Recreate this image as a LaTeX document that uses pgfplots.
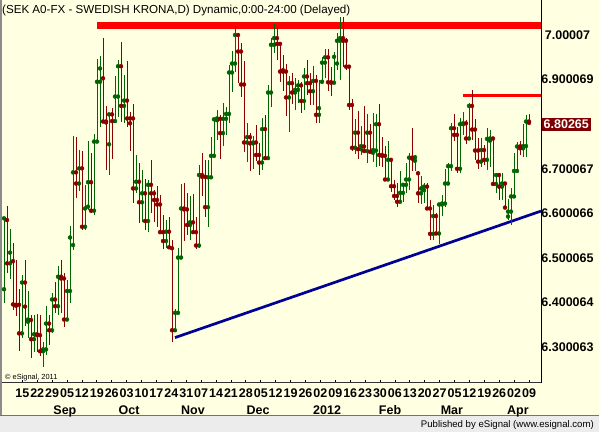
\documentclass[border=0pt]{standalone}
\usepackage{fontspec}
\setmainfont{Liberation Sans}
\usepackage{pgfplots}
\usepackage{pgfplotstable}
\pgfplotsset{compat=1.18}
\definecolor{bg}{RGB}{255,255,225}
\definecolor{upc}{RGB}{0,100,0}
\definecolor{dnc}{RGB}{140,0,0}
\definecolor{trend}{RGB}{0,0,150}
\definecolor{boxred}{RGB}{128,0,0}
\definecolor{barbg}{RGB}{236,236,236}

% up bars (close above open)
\pgfplotstableread{
i o h l c
1 6.430 6.589 6.398 6.589
3 6.488 6.566 6.454 6.512
7 6.331 6.462 6.321 6.445
9 6.357 6.426 6.320 6.362
11 6.318 6.372 6.290 6.329
14 6.291 6.312 6.256 6.295
15 6.295 6.392 6.282 6.353
17 6.338 6.421 6.331 6.407
19 6.392 6.481 6.372 6.458
22 6.362 6.451 6.358 6.426
23 6.426 6.572 6.400 6.546
24 6.529 6.774 6.518 6.692
26 6.667 6.742 6.651 6.701
28 6.570 6.664 6.563 6.611
29 6.615 6.763 6.608 6.670
31 6.606 6.777 6.596 6.761
32 6.761 6.946 6.758 6.895
33 6.895 6.953 6.794 6.925
36 6.755 6.824 6.686 6.822
38 6.807 6.907 6.802 6.862
39 6.862 6.944 6.817 6.930
41 6.841 6.910 6.802 6.853
45 6.656 6.731 6.645 6.671
47 6.625 6.697 6.581 6.645
49 6.583 6.675 6.559 6.664
55 6.538 6.585 6.522 6.559
58 6.338 6.385 6.335 6.377
59 6.377 6.522 6.374 6.501
60 6.501 6.665 6.499 6.611
63 6.574 6.639 6.540 6.580
66 6.528 6.709 6.522 6.686
69 6.614 6.720 6.570 6.681
70 6.681 6.772 6.679 6.729
71 6.729 6.815 6.727 6.811
72 6.809 6.832 6.765 6.813
74 6.780 6.848 6.751 6.812
75 6.812 6.838 6.776 6.823
76 6.823 6.933 6.802 6.916
77 6.916 6.965 6.873 6.936
78 6.936 7.021 6.916 7.000
82 6.759 6.803 6.716 6.771
84 6.757 6.774 6.700 6.759
87 6.714 6.813 6.697 6.789
89 6.724 6.888 6.721 6.871
90 6.871 6.993 6.839 6.978
91 6.978 7.025 6.960 6.993
96 6.860 6.908 6.783 6.892
98 6.871 6.903 6.832 6.877
99 6.877 6.899 6.847 6.887
101 6.852 6.925 6.832 6.907
104 6.874 6.930 6.843 6.897
106 6.821 6.898 6.803 6.836
107 6.895 6.950 6.892 6.938
108 6.938 6.968 6.903 6.950
111 6.893 6.963 6.890 6.951
112 6.936 7.004 6.922 6.987
113 6.987 7.040 6.898 6.993
118 6.747 6.812 6.733 6.781
120 6.744 6.796 6.731 6.751
122 6.740 6.822 6.714 6.781
124 6.736 6.824 6.716 6.742
125 6.741 6.822 6.705 6.800
129 6.676 6.763 6.673 6.720
133 6.626 6.694 6.624 6.646
134 6.646 6.667 6.626 6.664
135 6.664 6.712 6.645 6.676
136 6.676 6.735 6.652 6.725
138 6.718 6.731 6.694 6.726
140 6.645 6.684 6.621 6.656
141 6.652 6.669 6.623 6.660
144 6.554 6.619 6.540 6.594
146 6.555 6.624 6.531 6.620
147 6.620 6.641 6.594 6.622
148 6.622 6.699 6.615 6.667
149 6.667 6.714 6.664 6.706
150 6.706 6.802 6.696 6.791
153 6.700 6.815 6.690 6.800
154 6.800 6.828 6.776 6.802
156 6.768 6.847 6.764 6.841
160 6.716 6.768 6.705 6.742
162 6.720 6.792 6.697 6.767
163 6.763 6.787 6.705 6.768
165 6.666 6.690 6.645 6.686
167 6.660 6.690 6.630 6.667
169 6.593 6.632 6.585 6.604
170 6.604 6.656 6.574 6.638
171 6.638 6.735 6.636 6.695
172 6.695 6.761 6.693 6.750
174 6.746 6.800 6.726 6.751
175 6.751 6.821 6.726 6.806
}\upbars

% down bars (close below open)
\pgfplotstableread{
i o h l c
2 6.585 6.617 6.466 6.488
4 6.493 6.534 6.383 6.396
5 6.395 6.496 6.370 6.393
6 6.395 6.430 6.291 6.331
8 6.445 6.496 6.348 6.391
10 6.361 6.372 6.275 6.318
12 6.329 6.374 6.290 6.327
13 6.327 6.372 6.280 6.291
16 6.353 6.372 6.306 6.338
18 6.407 6.447 6.376 6.392
20 6.458 6.496 6.376 6.454
21 6.454 6.466 6.346 6.362
25 6.692 6.771 6.634 6.667
27 6.701 6.741 6.563 6.570
30 6.670 6.735 6.602 6.606
34 6.903 6.994 6.803 6.806
35 6.806 6.841 6.697 6.804
37 6.822 6.836 6.722 6.807
40 6.930 6.985 6.806 6.841
42 6.853 6.942 6.794 6.813
43 6.813 6.828 6.741 6.802
44 6.813 6.845 6.624 6.656
46 6.671 6.714 6.579 6.625
48 6.645 6.676 6.563 6.583
50 6.664 6.720 6.600 6.645
51 6.645 6.652 6.581 6.630
52 6.630 6.661 6.569 6.620
53 6.620 6.641 6.555 6.558
54 6.558 6.596 6.520 6.538
56 6.559 6.593 6.522 6.524
57 6.522 6.540 6.312 6.338
61 6.611 6.669 6.539 6.609
62 6.609 6.645 6.552 6.574
64 6.580 6.643 6.555 6.558
65 6.558 6.593 6.520 6.528
67 6.686 6.735 6.638 6.682
68 6.682 6.720 6.593 6.614
73 6.812 6.821 6.723 6.780
79 7.000 7.004 6.893 6.963
80 6.963 6.983 6.860 6.889
81 6.889 6.942 6.738 6.759
83 6.771 6.781 6.696 6.757
85 6.759 6.798 6.718 6.731
86 6.731 6.757 6.685 6.714
88 6.789 6.821 6.723 6.724
92 6.993 7.019 6.945 6.980
93 6.980 6.985 6.895 6.918
94 6.921 6.955 6.875 6.918
95 6.918 6.936 6.819 6.860
97 6.892 6.914 6.845 6.871
100 6.887 6.895 6.826 6.852
102 6.907 6.945 6.865 6.892
103 6.892 6.914 6.843 6.874
105 6.897 6.910 6.803 6.821
109 6.950 6.968 6.875 6.894
110 6.894 6.929 6.863 6.893
114 6.993 7.040 6.929 6.987
115 6.987 6.993 6.922 6.929
116 6.929 6.933 6.832 6.843
117 6.843 6.857 6.741 6.747
119 6.781 6.830 6.722 6.744
121 6.750 6.841 6.736 6.740
123 6.781 6.800 6.735 6.738
126 6.800 6.845 6.707 6.731
127 6.731 6.771 6.705 6.729
128 6.729 6.751 6.673 6.676
130 6.720 6.724 6.649 6.661
131 6.661 6.675 6.630 6.639
132 6.639 6.669 6.615 6.626
137 6.725 6.792 6.694 6.723
139 6.690 6.694 6.623 6.645
142 6.660 6.669 6.608 6.611
143 6.611 6.630 6.540 6.554
145 6.594 6.602 6.552 6.555
151 6.791 6.822 6.763 6.776
152 6.776 6.793 6.690 6.700
155 6.802 6.810 6.756 6.768
157 6.841 6.877 6.765 6.788
158 6.788 6.812 6.720 6.741
159 6.741 6.768 6.699 6.716
161 6.742 6.753 6.709 6.720
164 6.768 6.772 6.661 6.666
166 6.686 6.690 6.630 6.660
168 6.667 6.670 6.611 6.613
173 6.750 6.763 6.731 6.746
176 6.806 6.823 6.800 6.803
}\dnbars

\newcommand{\labfont}{\fontsize{12.5bp}{14bp}\selectfont\bfseries}

\begin{document}
\begin{tikzpicture}
\useasboundingbox (0bp,0bp) rectangle (599bp,432bp);
\fill[bg] (0bp,0bp) rectangle (599bp,432bp);
\fill[barbg] (0bp,0bp) rectangle (599bp,15.5bp);
\draw[black!55, line width=1bp] (0bp,16bp) -- (599bp,16bp);
\draw[black!45, line width=1.6bp] (0.8bp,16.5bp) -- (0.8bp,432bp);
\begin{axis}[
  at={(2bp,49bp)}, anchor=south west,
  width=539bp, height=381bp, scale only axis,
  xmin=0.33, xmax=180, ymin=6.2197, ymax=7.0740,
  axis line style={draw=none}, clip=false,
  xtick={7.10,12.07,17.04,22.00,26.97,31.94,36.91,41.88,46.84,51.81,56.78,61.75,66.72,71.68,76.65,81.62,86.59,91.56,96.52,101.49,106.46,111.43,116.40,121.36,126.33,131.30,136.27,141.24,146.20,151.17,156.14,161.11,166.08,171.04,176.01},
  xticklabels={15,22,29,05,12,19,26,03,10,17,24,31,07,14,21,28,05,12,19,26,02,09,16,23,30,06,13,20,27,05,12,19,26,02,09},
  xtick pos=lower, tick align=inside, major tick length=3bp,
  xtick style={black, line width=0.8bp},
  ytick={6.300063,6.400064,6.500065,6.600066,6.700067,6.900069,7.00007},
  yticklabels={6.300063,6.400064,6.500065,6.600066,6.700067,6.900069,7.00007},
  ytick pos=right, yticklabel pos=right, ytick style={draw=none},
  xticklabel style={font=\labfont, anchor=base, yshift=-14.7bp, inner sep=0pt},
  yticklabel style={font=\labfont, anchor=base, xshift=26.5bp, yshift=-4.4bp, inner sep=0pt},
]
% drawn lines
\addplot[red, line width=7bp, forget plot] coordinates {(32,7.0213) (180,7.0213)};
\addplot[red, line width=3bp, forget plot] coordinates {(153.9,6.8636) (180,6.8636)};
\addplot[trend, line width=2.7bp, forget plot] coordinates {(58,6.3215) (180,6.6052)};
% up bars: high-low range and close tick, then open tick
\addplot[upc, only marks, mark=none, forget plot,
  error bars/.cd, y dir=both, y explicit, x dir=plus, x fixed=0.7,
  error mark=none, error bar style={line width=1bp, upc}]
  table[x=i, y=c, y error plus expr=\thisrow{h}-\thisrow{c}, y error minus expr=\thisrow{c}-\thisrow{l}] {\upbars};
\addplot[upc, only marks, mark=none, forget plot,
  error bars/.cd, x dir=minus, x fixed=0.7,
  error mark=none, error bar style={line width=1bp, upc}]
  table[x=i, y=o] {\upbars};
% down bars
\addplot[dnc, only marks, mark=none, forget plot,
  error bars/.cd, y dir=both, y explicit, x dir=plus, x fixed=0.7,
  error mark=none, error bar style={line width=1bp, dnc}]
  table[x=i, y=c, y error plus expr=\thisrow{h}-\thisrow{c}, y error minus expr=\thisrow{c}-\thisrow{l}] {\dnbars};
\addplot[dnc, only marks, mark=none, forget plot,
  error bars/.cd, x dir=minus, x fixed=0.7,
  error mark=none, error bar style={line width=1bp, dnc}]
  table[x=i, y=o] {\dnbars};
% month labels
\node[font=\labfont, anchor=base, inner sep=0pt, yshift=-31.3bp] at (axis cs:21.3,6.2197) {Sep};
\node[font=\labfont, anchor=base, inner sep=0pt, yshift=-31.3bp] at (axis cs:42.7,6.2197) {Oct};
\node[font=\labfont, anchor=base, inner sep=0pt, yshift=-31.3bp] at (axis cs:64,6.2197) {Nov};
\node[font=\labfont, anchor=base, inner sep=0pt, yshift=-31.3bp] at (axis cs:85.7,6.2197) {Dec};
\node[font=\labfont, anchor=base, inner sep=0pt, yshift=-31.3bp] at (axis cs:108.7,6.2197) {2012};
\node[font=\labfont, anchor=base, inner sep=0pt, yshift=-31.3bp] at (axis cs:129.7,6.2197) {Feb};
\node[font=\labfont, anchor=base, inner sep=0pt, yshift=-31.3bp] at (axis cs:150.3,6.2197) {Mar};
\node[font=\labfont, anchor=base, inner sep=0pt, yshift=-31.3bp] at (axis cs:172.3,6.2197) {Apr};
% last price box
\node[fill=boxred, text=white, anchor=west, minimum height=12.5bp, minimum width=50bp, inner sep=0pt, font=\labfont] at (axis cs:180,6.7993) {\makebox[50bp][l]{\hspace{2.5bp}6.80265}};
\end{axis}
\draw[black, line width=1bp] (541bp,49bp) -- (541bp,432bp);
\draw[black!80, line width=1bp] (2bp,49bp) -- (541bp,49bp);
\node[anchor=base west, inner sep=0pt, font=\fontsize{11.6bp}{13bp}\selectfont] at (2bp,418bp) {(SEK A0-FX - SWEDISH KRONA,D) Dynamic,0:00-24:00 (Delayed)};
\node[anchor=base west, inner sep=0pt, font=\fontsize{7.4bp}{9bp}\selectfont] at (5bp,52.5bp) {© eSignal, 2011};
\node[anchor=base east, inner sep=0pt, font=\fontsize{9.6bp}{11bp}\selectfont] at (594bp,4.5bp) {Published by eSignal (www.esignal.com)};
\end{tikzpicture}
\end{document}
